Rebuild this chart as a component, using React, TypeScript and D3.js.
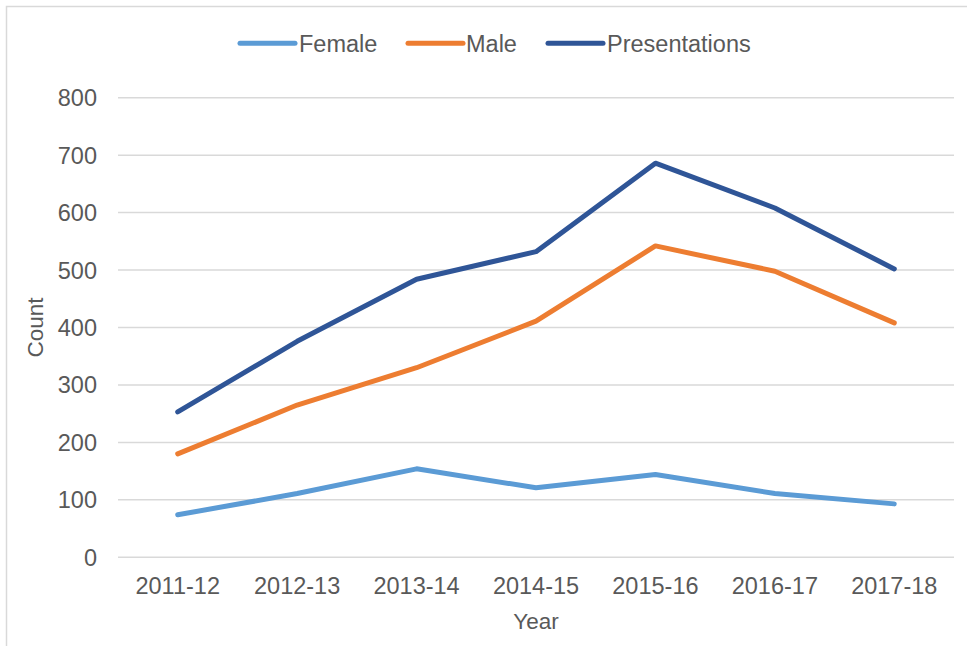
import React from 'react';
import * as d3 from 'd3';

const years = ['2011-12', '2012-13', '2013-14', '2014-15', '2015-16', '2016-17', '2017-18'];
const female = [74, 111, 154, 121, 144, 111, 93];
const male = [180, 265, 330, 411, 542, 498, 408];
const presentations = [253, 376, 484, 532, 686, 608, 502];
const yTicks = [0, 100, 200, 300, 400, 500, 600, 700, 800];

const series = [
  { name: 'Female', values: female, color: '#5B9BD5' },
  { name: 'Male', values: male, color: '#ED7D31' },
  { name: 'Presentations', values: presentations, color: '#2F5597' },
];

const W = 967;
const H = 646;
const FONT = 'Liberation Sans, Arial, sans-serif';
const TEXT = '#595959';

const App = () => {
  const plot = { left: 118, right: 954, top: 97.7, bottom: 557.3 };

  const x = d3.scaleBand().domain(years).range([plot.left, plot.right]);
  const y = d3.scaleLinear().domain([0, 800]).range([plot.bottom, plot.top]);
  const cx = (d: string) => (x(d) as number) + x.bandwidth() / 2;

  const line = d3
    .line<number>()
    .x((_, i) => cx(years[i]))
    .y((v) => y(v));

  // legend entries: line sample start x, text start x
  const legend = [
    { lx: 240, tx: 299 },
    { lx: 408, tx: 466 },
    { lx: 548, tx: 607 },
  ];

  return (
    <svg
      width={W}
      height={H}
      style={{ position: 'absolute', left: 0, top: 0, background: '#fff' }}
      fontFamily={FONT}
    >
      <rect x={6.5} y={6.5} width={W + 10} height={H + 10} fill="#fff" stroke="#d9d9d9" strokeWidth={1.5} />

      {/* gridlines */}
      {yTicks.map((t) => (
        <line
          key={t}
          x1={plot.left}
          x2={plot.right}
          y1={y(t)}
          y2={y(t)}
          stroke="#d9d9d9"
          strokeWidth={1.5}
        />
      ))}

      {/* y tick labels */}
      {yTicks.map((t) => (
        <text key={t} x={97} y={y(t)} dy="0.36em" textAnchor="end" fontSize={23.5} fill={TEXT}>
          {t}
        </text>
      ))}

      {/* x tick labels */}
      {years.map((yr) => (
        <text key={yr} x={cx(yr)} y={594} textAnchor="middle" fontSize={23.5} fill={TEXT}>
          {yr}
        </text>
      ))}

      {/* axis titles */}
      <text x={(plot.left + plot.right) / 2} y={629} textAnchor="middle" fontSize={22.5} fill={TEXT}>
        Year
      </text>
      <text
        transform={`translate(43, ${(plot.top + plot.bottom) / 2}) rotate(-90)`}
        textAnchor="middle"
        fontSize={22.5}
        fill={TEXT}
      >
        Count
      </text>

      {/* lines */}
      {series.map((s) => (
        <path
          key={s.name}
          d={line(s.values) as string}
          fill="none"
          stroke={s.color}
          strokeWidth={5}
          strokeLinecap="round"
          strokeLinejoin="round"
        />
      ))}

      {/* legend */}
      {series.map((s, i) => (
        <g key={s.name}>
          <line
            x1={legend[i].lx}
            x2={legend[i].lx + 55}
            y1={43.3}
            y2={43.3}
            stroke={s.color}
            strokeWidth={5}
            strokeLinecap="round"
          />
          <text x={legend[i].tx} y={43.3} dy="0.36em" fontSize={23.5} fill={TEXT}>
            {s.name}
          </text>
        </g>
      ))}
    </svg>
  );
};

export default App;
